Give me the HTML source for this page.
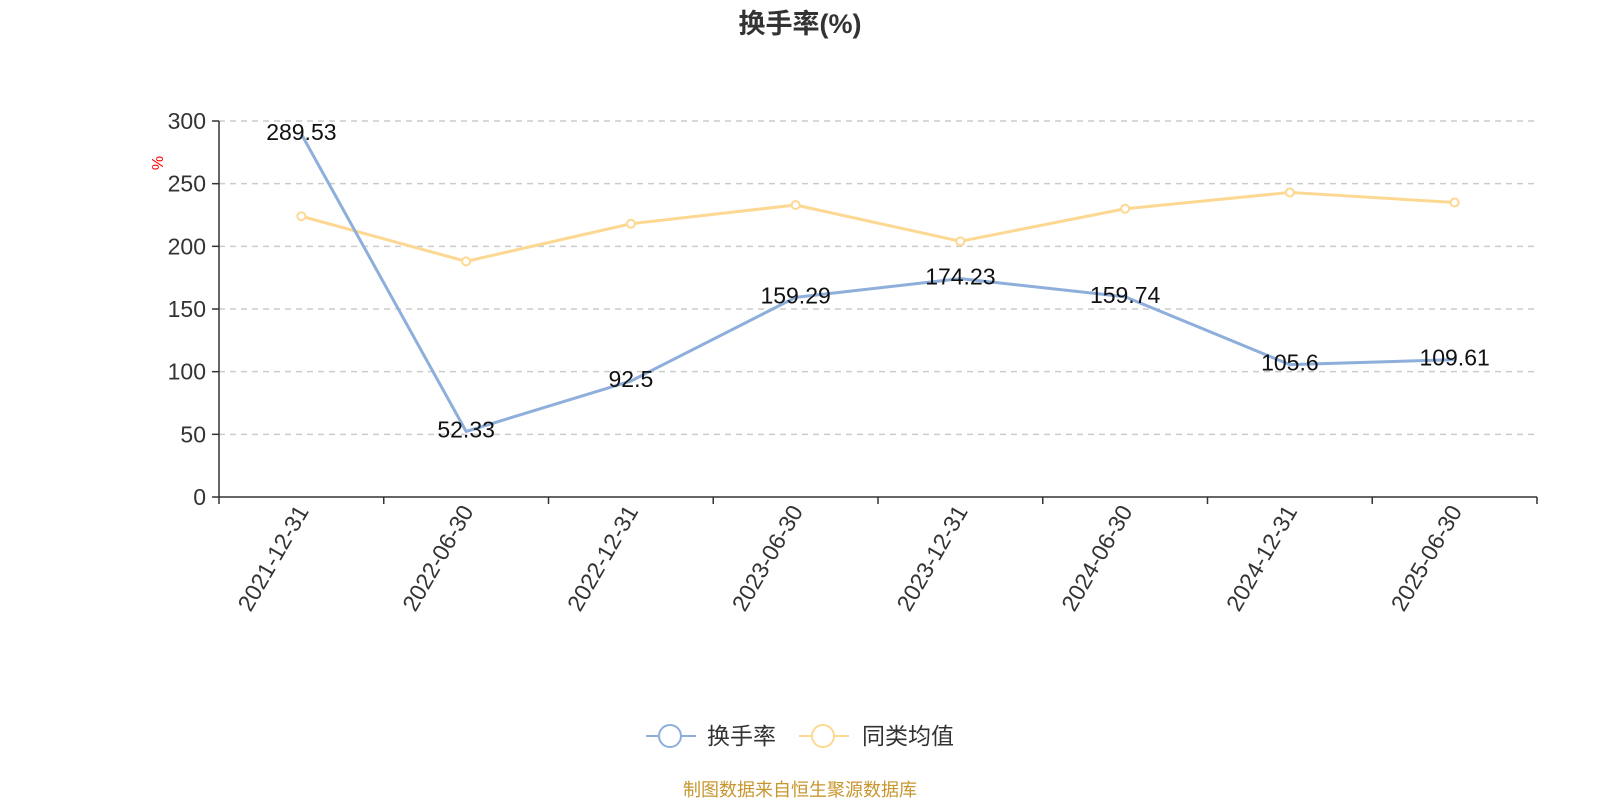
<!DOCTYPE html>
<html><head><meta charset="utf-8"><style>
body{margin:0;background:#fff;width:1600px;height:800px;overflow:hidden;font-family:"Liberation Sans","Noto Sans CJK SC",sans-serif}
</style></head><body>
<svg id="c" width="1600" height="800" xmlns="http://www.w3.org/2000/svg" font-family="Liberation Sans, Noto Sans CJK SC, sans-serif">
<text x="800" y="33" text-anchor="middle" font-size="27" font-weight="bold" fill="#333">换手率(%)</text>
<text x="0" y="0" transform="translate(163,163) rotate(-90)" text-anchor="middle" font-size="16" fill="red">%</text>
<g id="grid"></g><g id="axes"></g><g id="series"></g>
<g>
<g>
<line x1="646" y1="736" x2="696" y2="736" stroke="#8eaedb" stroke-width="2"/>
<circle cx="670" cy="736" r="11" fill="#fff" stroke="#8eaedb" stroke-width="2"/>
<text x="707" y="744" font-size="23" fill="#333">换手率</text></g>
<g>
<line x1="799" y1="736" x2="849" y2="736" stroke="#fdd893" stroke-width="2"/>
<circle cx="823" cy="736" r="11" fill="#fff" stroke="#fdd893" stroke-width="2"/>
<text x="862" y="744" font-size="23" fill="#333">同类均值</text></g>
</g>
<text x="800" y="796" text-anchor="middle" font-size="18" fill="#c8962e">制图数据来自恒生聚源数据库</text>
</svg>
<script>
const categories=["2021-12-31","2022-06-30","2022-12-31","2023-06-30","2023-12-31","2024-06-30","2024-12-31","2025-06-30"];
const turnover=[289.53,52.33,92.5,159.29,174.23,159.74,105.6,109.61];
const peerAvg=[224,188,218,233,204,230,243,235];
const yTicks=[0,50,100,150,200,250,300];
const NS="http://www.w3.org/2000/svg";
const L=219,R=1537,T=121,B=497,ymax=300;
const step=(R-L)/categories.length;
const xs=i=>L+step*(i+0.5);
const ys=v=>B-(v/ymax)*(B-T);
function mk(tag,attrs,parent){const e=document.createElementNS(NS,tag);for(const k in attrs)e.setAttribute(k,attrs[k]);parent.appendChild(e);return e;}
const grid=document.getElementById('grid'),axes=document.getElementById('axes'),ser=document.getElementById('series');
yTicks.forEach(t=>{
 if(t>0){const g=mk('line',{x1:L,x2:R,y1:ys(t),y2:ys(t),stroke:'#ccc','stroke-dasharray':'6,5','stroke-width':1.5},grid);
 
 }
 const tk=mk('line',{x1:L-7,x2:L,y1:ys(t),y2:ys(t),stroke:'#333','stroke-width':1.5},axes);
 
 
 const tx=mk('text',{x:L-13,y:ys(t)+8,'text-anchor':'end','font-size':23,fill:'#333'},axes);tx.textContent=t;
 
 
});
const ya=mk('line',{x1:L,x2:L,y1:T,y2:B,stroke:'#333','stroke-width':1.5},axes);


const xa=mk('line',{x1:L,x2:R,y1:B,y2:B,stroke:'#333','stroke-width':1.5},axes);


for(let i=0;i<=categories.length;i++){const tk=mk('line',{x1:L+step*i,x2:L+step*i,y1:B,y2:B+7,stroke:'#333','stroke-width':1.5},axes);
 
 }
categories.forEach((c,i)=>{const x=xs(i);const t=mk('text',{x:0,y:0,transform:`translate(${x+8},${B+14}) rotate(-60)`,'text-anchor':'end','font-size':23,fill:'#333'},axes);t.textContent=c;
 
 });
function line(data,color,name,markers){
 const p=mk('polyline',{points:data.map((v,i)=>xs(i)+','+ys(v)).join(' '),fill:'none',stroke:color,'stroke-width':3,'stroke-linejoin':'round'},ser);
 
 
 data.forEach((v,i)=>{
  if(markers){const c=mk('circle',{cx:xs(i),cy:ys(v),r:4,fill:'#fff',stroke:color,'stroke-width':2},ser);
   
   }
  else{const t=mk('text',{x:xs(i),y:ys(v)+6,'text-anchor':'middle','font-size':23,fill:'#111'},ser);t.textContent=v;
   
   }
 });
}
line(peerAvg,'#fdd893','peer-average',true);
line(turnover,'#8eaedb','turnover',false);
</script>
</body></html>
